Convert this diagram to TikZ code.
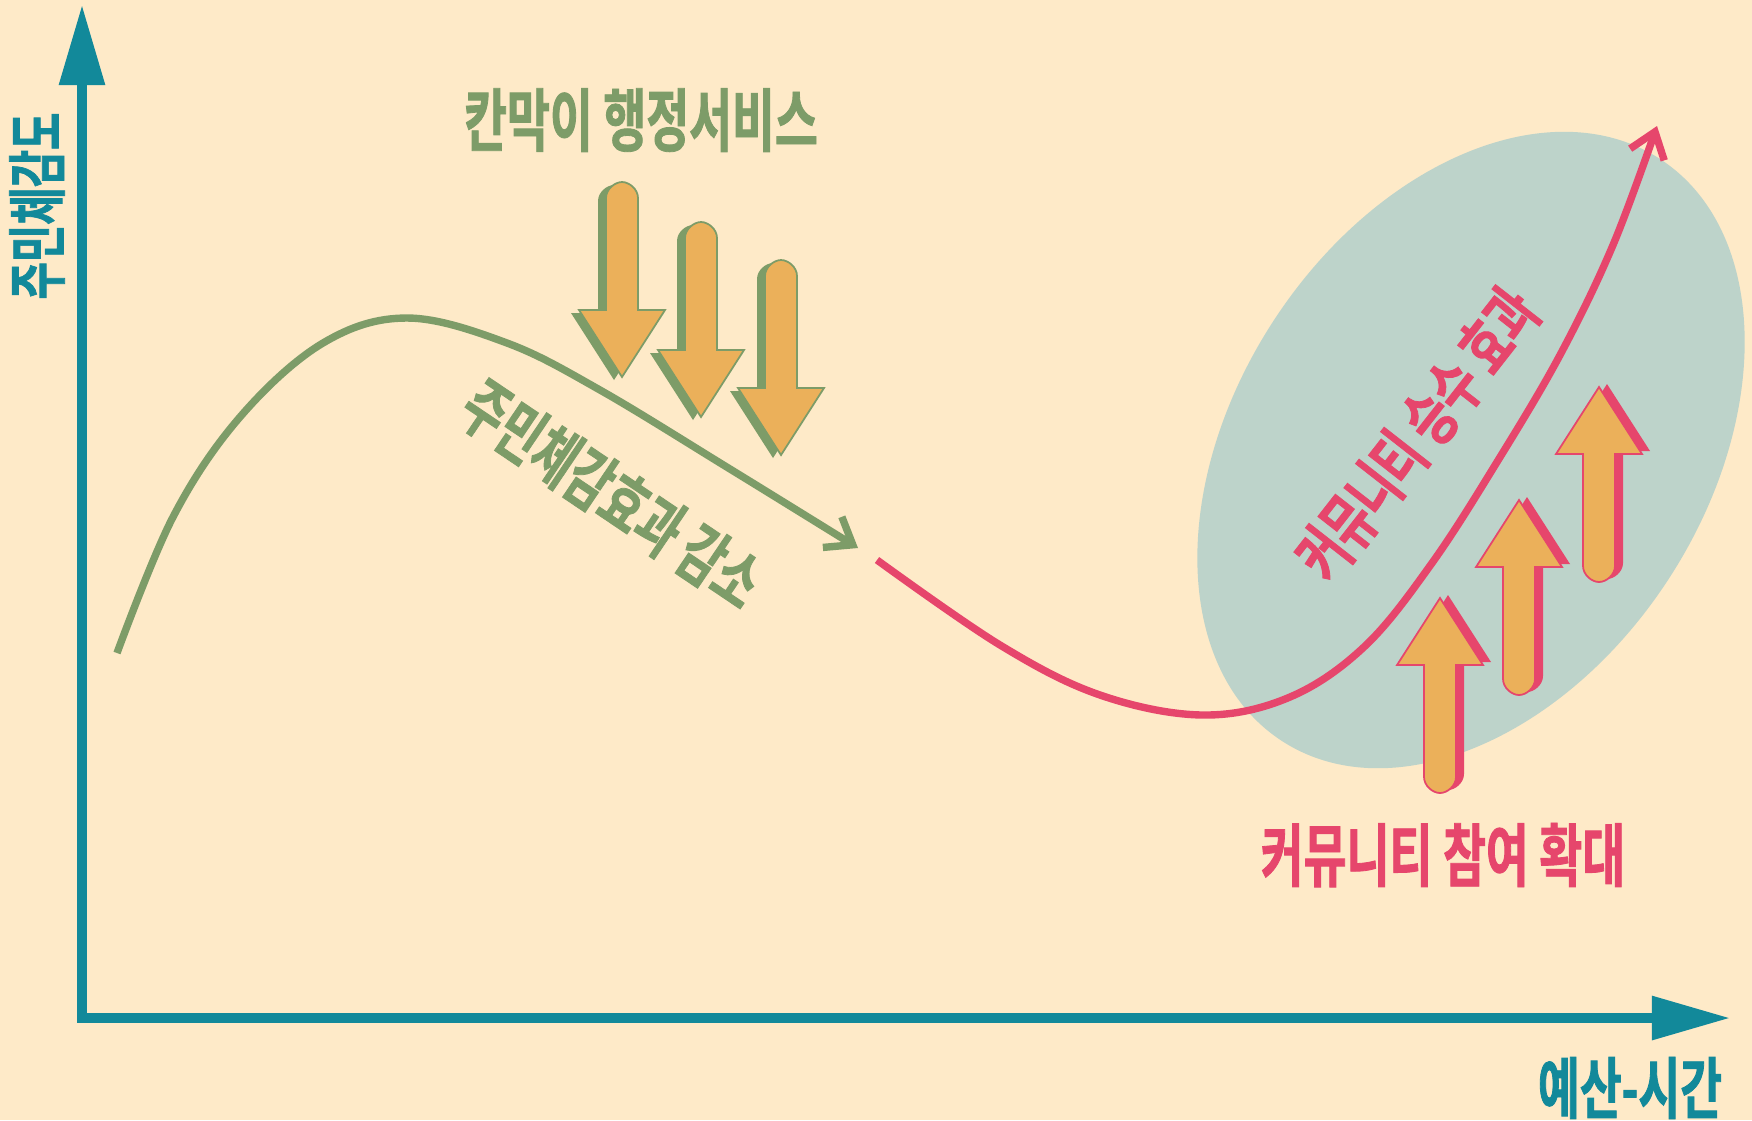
\documentclass[tikz,border=0pt]{standalone}
\usepackage{fontspec}
\usepackage{xcolor}
\usepackage{tikz}
\usetikzlibrary{arrows.meta}
\newfontfamily\krfont{Noto Sans CJK KR Bold}[FakeStretch=0.68, FakeBold=1.2]
\definecolor{bgcream}{HTML}{FEEAC8}
\definecolor{axisteal}{HTML}{12899A}
\definecolor{leafgreen}{HTML}{7D9C68}
\definecolor{rosepink}{HTML}{E6466C}
\definecolor{amber}{HTML}{EBB05A}
\definecolor{mist}{HTML}{BDD3CA}
\newcommand{\arrowoutline}{(-16,128) -- (-16,16) .. controls (-16,7.2) and (-7.2,0) .. (0,0) .. controls (7.2,0) and (16,7.2) .. (16,16) -- (16,128) -- (43,128) -- (0,195) -- (-43,128) -- cycle}
\tikzset{
  pics/fatarrow/.style={code={
    \fill[#1, shift={(-8,3)}] \arrowoutline;
    \filldraw[fill=amber, draw=#1, line width=0.5pt] \arrowoutline;
  }},
  krtext/.style={inner sep=0pt, font=\krfont\fontsize{#1}{#1}\selectfont},
}

\begin{document}
\begin{tikzpicture}[x=0.01cm, y=-0.01cm]
  \fill[bgcream] (0,0) rectangle (1752,1120);
  \useasboundingbox (0,0) rectangle (1752,1120);
  % axes
  \coordinate (O) at (82,1018);
  \coordinate (ytip) at (82,5);
  \coordinate (xtip) at (1730,1018);
  \draw[axisteal, line width=2.6pt, {Triangle[length=0.8cm,width=0.44cm]}-{Triangle[length=0.78cm,width=0.42cm]}] (ytip) -- (O) -- (xtip);
  \node[krtext=17pt, axisteal, rotate=90] (ylab) at (37,206) {주민체감도};
  \node[krtext=19pt, axisteal] (xlab) at (1630,1088) {예산-시간};
  % community zone
  \fill[mist, rotate around={57:(1471,450)}] (1471,450) ellipse [x radius=347, y radius=236];
  % curves
  \draw[leafgreen, line width=2.1pt, -{Straight Barb[length=0.24cm,width=0.36cm]}] plot[smooth, tension=0.6] coordinates {(117,653) (173,517) (240,417) (323,343) (407,318) (507,343) (600,390) (730,469) (858,548)};
  \draw[rosepink, line width=2.1pt, -{Straight Barb[length=0.24cm,width=0.36cm]}] plot[smooth, tension=0.6] coordinates {(877,560) (1000,645) (1100,695) (1203,715) (1290,697) (1365,646) (1432,563) (1497,462) (1560,355) (1613,245) (1657,126)};
  % fat arrows
  \foreach \ax/\ay in {622/182, 701/222, 781/260}
    \pic at (\ax,\ay) {fatarrow=leafgreen};
  \foreach \ax/\ay in {1440/793, 1519/695, 1599/582}
    \pic[rotate=180] at (\ax,\ay) {fatarrow=rosepink};
  % labels
  \node[krtext=19.5pt, leafgreen] (silo) at (641,120) {칸막이 행정서비스};
  \node[krtext=19pt, leafgreen, rotate=-34] (dropoff) at (612,494) {주민체감효과 감소};
  \node[krtext=18.5pt, rosepink, rotate=52] (multiplier) at (1417,434) {커뮤니티 승수 효과};
  \node[krtext=19.5pt, rosepink] (joinin) at (1443,855) {커뮤니티 참여 확대};
\end{tikzpicture}
\end{document}
